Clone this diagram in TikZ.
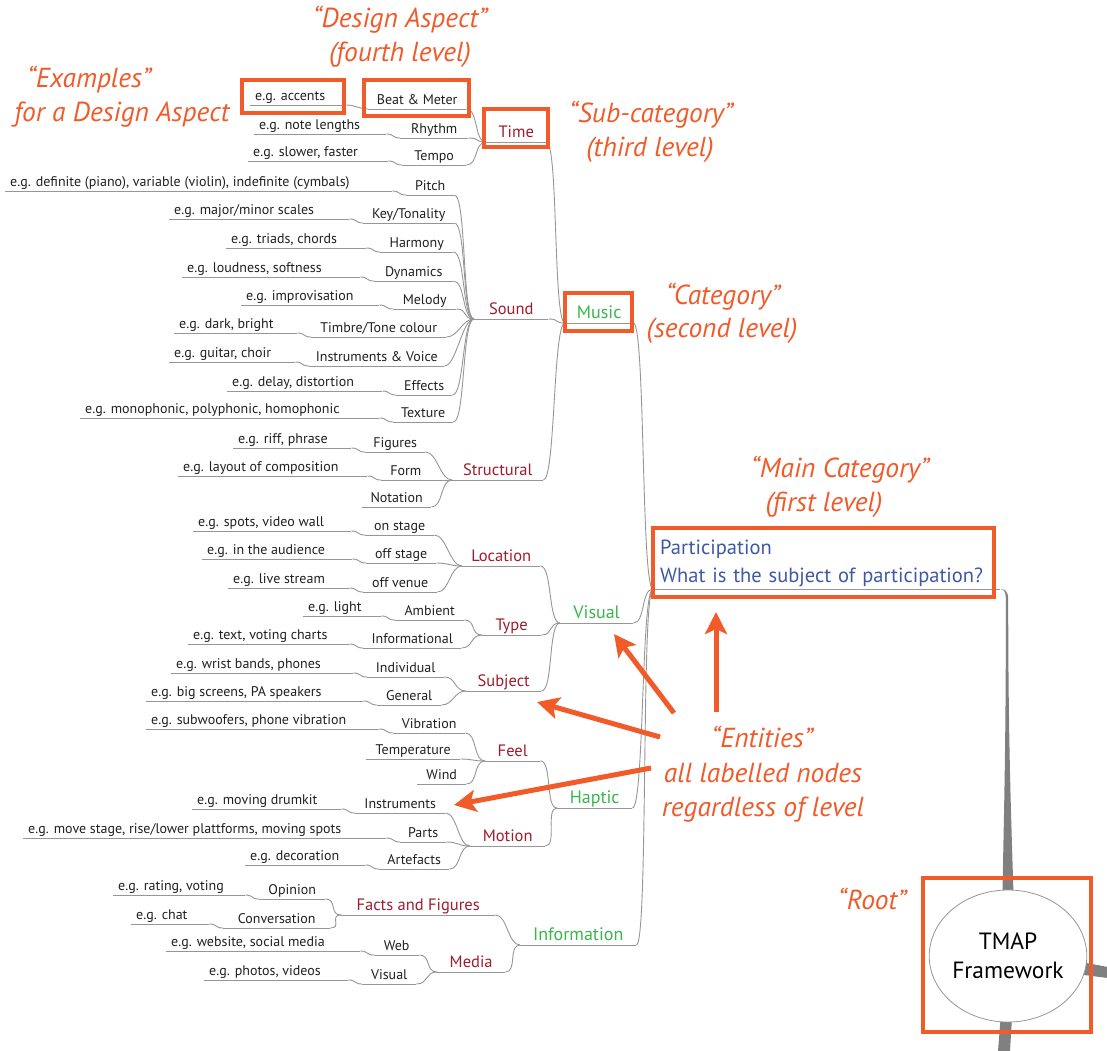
\documentclass[tikz,border=0pt]{standalone}
\usepackage{fontspec}
\setmainfont{PT Sans}
\usetikzlibrary{arrows.meta,calc,shapes.geometric}
\definecolor{org}{RGB}{241,90,41}
\definecolor{dred}{RGB}{158,28,44}
\definecolor{grn}{RGB}{57,181,74}
\definecolor{blu}{RGB}{62,88,166}
\definecolor{lgray}{RGB}{150,150,150}
\definecolor{stemg}{RGB}{128,128,128}
\definecolor{txt}{RGB}{35,31,32}
\tikzset{
  mm/.style={inner xsep=5pt, inner ysep=4pt, text depth=0pt},
  fex/.style={mm, font=\fontsize{14}{16}\selectfont, text=txt},
  fasp/.style={mm, font=\fontsize{14}{16}\selectfont, text=txt},
  fsub/.style={mm, font=\fontsize{16.5}{19}\selectfont, text=dred},
  fcat/.style={mm, font=\fontsize{18}{21}\selectfont, text=grn},
  ul/.style={draw=lgray, line width=0.9pt},
  cnl/.style={draw=lgray, line width=0.9pt},
  redbox/.style={draw=org, line width=4pt},
  ann/.style={font=\fontsize{27.5}{32}\selectfont\itshape, text=org, anchor=base, inner sep=0pt},
  oarrow/.style={draw=org, line width=5pt, -{Stealth[length=22pt,width=22pt,inset=5pt]}},
}
\newcommand\mmex[5]{%
  \pgfmathsetmacro\mmw{#4-#2-10}%
  \node[fex, anchor=south west] (#1) at (#2,#3) {\makebox[\mmw pt][l]{#5}};
  \draw[ul] (#1.south west) -- (#1.south east);}
\newcommand\mmnd[6]{%
  \pgfmathsetmacro\mmw{#5-#3-10}%
  \node[#1, anchor=south west] (#2) at (#3,#4) {\makebox[\mmw pt][c]{#6}};
  \draw[ul] (#2.south west) -- (#2.south east);}
\newcommand\mmlink[3][10]{\draw[cnl] (#2.south east) .. controls +(#1,0) and +(-#1,0) .. (#3.south west);}
\begin{document}
\begin{tikzpicture}[x=1pt,y=-1pt]
\useasboundingbox (0,0) rectangle (1107,1050);

% ---------- Time
\mmnd{fsub}{nTime}{486}{142}{546}{Time}
\mmnd{fasp}{nBeat}{368}{109}{466}{Beat \& Meter}
\mmnd{fasp}{nRhythm}{400}{138}{468}{Rhythm}
\mmnd{fasp}{nTempo}{402}{165}{466}{Tempo}
\mmex{xBeat}{250}{105}{346}{e.g. accents}
\mmex{xRhythm}{254}{134}{386}{e.g. note lengths}
\mmex{xTempo}{248}{161}{388}{e.g. slower, faster}
% ---------- Sound
\mmnd{fsub}{nSound}{474}{319}{548}{Sound}
\mmnd{fasp}{nPitch}{406}{195}{454}{Pitch}
\mmnd{fasp}{nKey}{363}{223}{454}{Key/Tonality}
\mmnd{fasp}{nHarm}{380}{252}{453}{Harmony}
\mmnd{fasp}{nDyn}{374}{281}{453}{Dynamics}
\mmnd{fasp}{nMel}{393}{309}{456}{Melody}
\mmnd{fasp}{nTimb}{311}{337}{446}{Timbre/Tone colour}
\mmnd{fasp}{nInstV}{309}{366}{444}{Instruments \& Voice}
\mmnd{fasp}{nEff}{396}{395}{452}{Effects}
\mmnd{fasp}{nTextu}{393}{422}{453}{Texture}
\mmex{xPitch}{5}{191}{392}{e.g. definite (piano), variable (violin), indefinite (cymbals)}
\mmex{xKey}{169}{219}{349}{e.g. major/minor scales}
\mmex{xHarm}{226}{248}{366}{e.g. triads, chords}
\mmex{xDyn}{182}{277}{360}{e.g. loudness, softness}
\mmex{xMel}{241}{305}{379}{e.g. improvisation}
\mmex{xTimb}{174}{333}{297}{e.g. dark, bright}
\mmex{xInstV}{169}{362}{295}{e.g. guitar, choir}
\mmex{xEff}{227}{391}{382}{e.g. delay, distortion}
\mmex{xTextu}{80}{418}{379}{e.g. monophonic, polyphonic, homophonic}
% ---------- Structural
\mmnd{fsub}{nStruct}{452}{480}{543}{Structural}
\mmnd{fasp}{nFig}{365}{452}{425}{Figures}
\mmnd{fasp}{nForm}{381}{480}{430}{Form}
\mmnd{fasp}{nNot}{362}{507}{431}{Notation}
\mmex{xFig}{233}{448}{351}{e.g. riff, phrase}
\mmex{xForm}{178}{476}{367}{e.g. layout of composition}
% ---------- Music
\mmnd{fcat}{nMusic}{565}{323}{633}{Music}
% ---------- Visual
\mmnd{fcat}{nVisual}{560}{623}{633}{Visual}
\mmnd{fsub}{nLoc}{462}{566}{540}{Location}
\mmnd{fasp}{nOnSt}{365}{535}{434}{on stage}
\mmnd{fasp}{nOffSt}{366}{563}{436}{off stage}
\mmnd{fasp}{nOffV}{363}{592}{437}{off venue}
\mmex{xOnSt}{193}{531}{351}{e.g. spots, video wall}
\mmex{xOffSt}{202}{559}{352}{e.g. in the audience}
\mmex{xOffV}{228}{588}{349}{e.g. live stream}
\mmnd{fsub}{nType}{482}{635}{541}{Type}
\mmnd{fasp}{nAmb}{395}{620}{464}{Ambient}
\mmnd{fasp}{nInfo}{363}{648}{461}{Informational}
\mmex{xAmb}{303}{616}{381}{e.g. light}
\mmex{xInfo}{188}{644}{349}{e.g. text, voting charts}
\mmnd{fsub}{nSubj}{466}{691}{541}{Subject}
\mmnd{fasp}{nIndiv}{367}{677}{444}{Individual}
\mmnd{fasp}{nGen}{377}{705}{441}{General}
\mmex{xIndiv}{171}{673}{353}{e.g. wrist bands, phones}
\mmex{xGen}{146}{701}{363}{e.g. big screens, PA speakers}
% ---------- Haptic
\mmnd{fcat}{nHaptic}{557}{808}{632}{Haptic}
\mmnd{fsub}{nFeel}{485}{761}{540}{Feel}
\mmnd{fasp}{nVib}{393}{733}{465}{Vibration}
\mmnd{fasp}{nTemp}{366}{759}{460}{Temperature}
\mmnd{fasp}{nWind}{417}{784}{466}{Wind}
\mmex{xVib}{146}{729}{379}{e.g. subwoofers, phone vibration}
\mmnd{fsub}{nMotion}{470}{846}{545}{Motion}
\mmnd{fasp}{nInstr}{355}{813}{445}{Instruments}
\mmnd{fasp}{nParts}{400}{842}{446}{Parts}
\mmnd{fasp}{nArte}{379}{869}{449}{Artefacts}
\mmex{xInstr}{192}{809}{341}{e.g. moving drumkit}
\mmex{xParts}{23}{838}{386}{e.g. move stage, rise/lower plattforms, moving spots}
\mmex{xArte}{245}{865}{365}{e.g. decoration}
% ---------- Information
\mmnd{fcat}{nInform}{520}{945}{636}{Information}
\mmnd{fsub}{nFacts}{341}{915}{495}{Facts and Figures}
\mmnd{fasp}{nOpin}{259}{899}{325}{Opinion}
\mmnd{fasp}{nConv}{223}{928}{330}{Conversation}
\mmex{xOpin}{113}{895}{245}{e.g. rating, voting}
\mmex{xConv}{131}{924}{209}{e.g. chat}
\mmnd{fsub}{nMedia}{437}{972}{505}{Media}
\mmnd{fasp}{nWeb}{374}{955}{419}{Web}
\mmnd{fasp}{nVisB}{362}{984}{416}{Visual}
\mmex{xWeb}{166}{951}{360}{e.g. website, social media}
\mmex{xVisB}{204}{980}{348}{e.g. photos, videos}

% ---------- Participation
\node[anchor=south west, inner xsep=7pt, inner ysep=2pt, text=blu,
      font=\fontsize{20.5}{28}\selectfont, align=left, text width=333pt] (part) at (653,589)
      {Participation\\What is the subject of participation?};
\draw[ul] (part.south west) -- (part.south east);

% ---------- connectors
\foreach \c/\p in {xBeat/nBeat,xRhythm/nRhythm,xTempo/nTempo,
  xPitch/nPitch,xKey/nKey,xHarm/nHarm,xDyn/nDyn,xMel/nMel,xTimb/nTimb,xInstV/nInstV,xEff/nEff,xTextu/nTextu,
  xFig/nFig,xForm/nForm,xOnSt/nOnSt,xOffSt/nOffSt,xOffV/nOffV,xAmb/nAmb,xInfo/nInfo,xIndiv/nIndiv,xGen/nGen,
  xVib/nVib,xInstr/nInstr,xParts/nParts,xArte/nArte,xOpin/nOpin,xConv/nConv,xWeb/nWeb,xVisB/nVisB}
  {\mmlink[8]{\c}{\p}}
\foreach \c/\p in {nBeat/nTime,nRhythm/nTime,nTempo/nTime,
  nPitch/nSound,nKey/nSound,nHarm/nSound,nDyn/nSound,nMel/nSound,nTimb/nSound,nInstV/nSound,nEff/nSound,nTextu/nSound,
  nFig/nStruct,nForm/nStruct,nNot/nStruct,
  nOnSt/nLoc,nOffSt/nLoc,nOffV/nLoc,nAmb/nType,nInfo/nType,nIndiv/nSubj,nGen/nSubj,
  nVib/nFeel,nTemp/nFeel,nWind/nFeel,nInstr/nMotion,nParts/nMotion,nArte/nMotion,
  nOpin/nFacts,nConv/nFacts,nWeb/nMedia,nVisB/nMedia,
  nTime/nMusic,nSound/nMusic,nStruct/nMusic,
  nLoc/nVisual,nType/nVisual,nSubj/nVisual,
  nFeel/nHaptic,nMotion/nHaptic,nFacts/nInform,nMedia/nInform,
  nMusic/part,nVisual/part,nHaptic/part,nInform/part}
  {\mmlink[12]{\c}{\p}}

% ---------- root and stems
\coordinate (rootc) at (1008,956);
\fill[stemg] (part.south east) .. controls +(4,0) and +(0,-6) .. ([shift={(5.5,10)}]part.south east)
   .. controls +(0,160) and +(1,-70) .. ([shift={(-5.5,5)}]rootc |- 0,890)
   -- ([shift={(5.5,5)}]rootc |- 0,890)
   .. controls +(-2,-70) and +(0,150) .. ([shift={(7.8,10)}]part.south east)
   .. controls +(0,-8) and +(4,0) .. (part.south east) -- cycle;
\fill[stemg] (1002,1000) -- (1013,1000) -- (1010,1051) -- (998,1051) -- cycle;
\fill[stemg] (1060,958) -- (1108,967) -- (1108,978) -- (1060,972) -- cycle;
\node[ellipse, draw=lgray, line width=0.8pt, fill=white, minimum width=142pt, minimum height=132pt,
      inner sep=0pt, align=center, font=\fontsize{23.5}{29}\selectfont, text=black] (root) at (rootc)
      {TMAP\\Framework};

% ---------- red highlight boxes
\draw[redbox] (242,80) rectangle (344,113);
\draw[redbox] (364,80) rectangle (469,116);
\draw[redbox] (484,109) rectangle (548,147);
\draw[redbox] (565,293) rectangle (632,331);
\draw[redbox] (653,528) rectangle (994,597);
\draw[redbox] (923,878) rectangle (1091,1032);

% ---------- annotations
\node[ann] (t1a) at (400,27) {“Design Aspect”};
\node[ann] (t1b) at (400,61) {(fourth level)};
\node[ann] (t2a) at (89,87) {“Examples”};
\node[ann] (t2b) at (122,121) {for a Design Aspect};
\node[ann] (t3a) at (651,122) {“Sub-category”};
\node[ann] (t3b) at (650,156) {(third level)};
\node[ann] (t4a) at (723,304) {“Category”};
\node[ann] (t4b) at (722,337) {(second level)};
\node[ann] (t5a) at (840,477) {“Main Category”};
\node[ann] (t5b) at (824,511) {(first level)};
\node[ann] (t6a) at (762,747) {“Entities”};
\node[ann] (t6b) at (763,782) {all labelled nodes};
\node[ann] (t6c) at (763,816) {regardless of level};
\node[ann] (t7a) at (872,909) {“Root”};

% ---------- arrows
\coordinate (a1s) at (716,712); \coordinate (a1e) at (716,612);
\coordinate (a2s) at (674,713); \coordinate (a2e) at (614,634);
\coordinate (a3s) at (660,737); \coordinate (a3e) at (537,702);
\coordinate (a4s) at (651,768); \coordinate (a4e) at (454,805);
\draw[oarrow] (a1s) -- (a1e);
\draw[oarrow] (a2s) -- (a2e);
\draw[oarrow] (a3s) -- (a3e);
\draw[oarrow] (a4s) -- (a4e);
\end{tikzpicture}
\end{document}
